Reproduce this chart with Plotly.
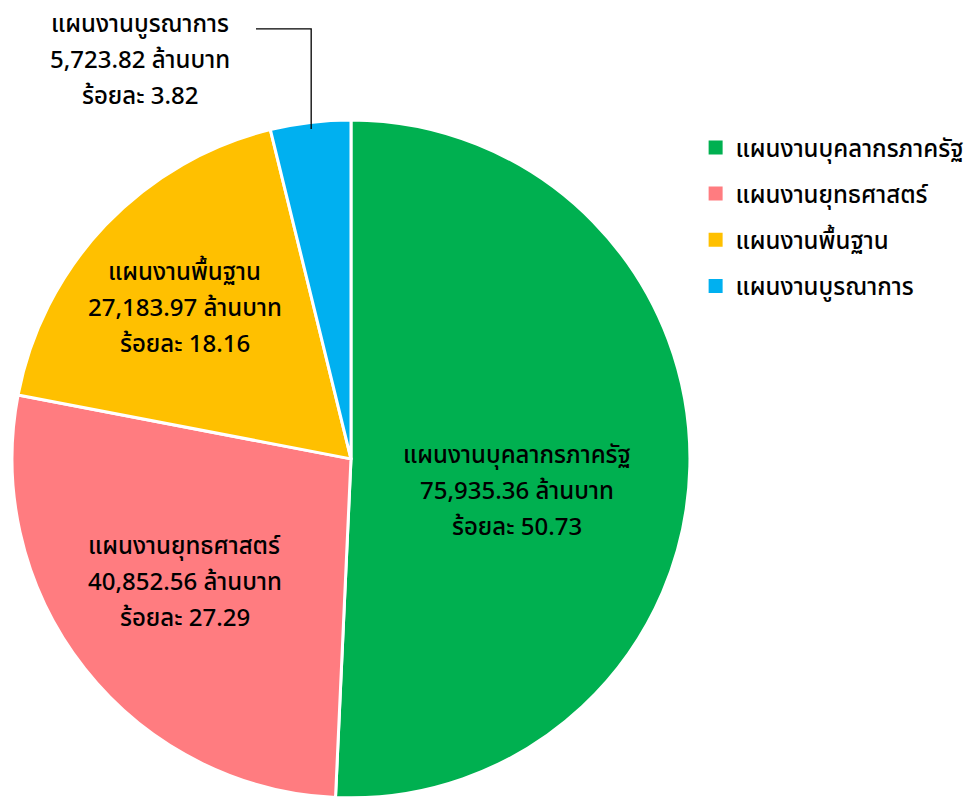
import math
import plotly.graph_objects as go

# ---- data ----
categories = ["แผนงานบุคลากรภาครัฐ", "แผนงานยุทธศาสตร์", "แผนงานพื้นฐาน", "แผนงานบูรณาการ"]
values_mb = [75935.36, 40852.56, 27183.97, 5723.82]       # ล้านบาท
percents = [50.73, 27.29, 18.16, 3.82]                    # ร้อยละ

# ---- style ----
colors = ["#00B050", "#FF7C80", "#FFC000", "#00B0F0"]
W, H = 977, 798
FONT = "Tahoma, 'Noto Sans Thai', 'Leelawadee UI', 'Noto Sans', sans-serif"
FS = 24
WEIGHT = 500
# label centre offsets from pie centre (pixels, +y down)
label_offsets = [(166, 33), (-166, 124), (-166, -150), (-211, -398)]
LINE_GAP = 36

dom_x = [0.0123, 0.7062]
dom_y = [0.0, 0.85]

fig = go.Figure()
fig.add_trace(go.Pie(
    labels=categories, values=values_mb, sort=False, direction="clockwise", rotation=0,
    marker=dict(colors=colors, line=dict(color="white", width=3)),
    textinfo="none", hoverinfo="label+value+percent", showlegend=False,
    domain=dict(x=dom_x, y=dom_y),
))

# legend via placeholder traces so spacing can be controlled
for i, (name, col) in enumerate(zip(categories, colors)):
    fig.add_trace(go.Scatter(
        x=[None], y=[None], mode="markers", name=name, legendgroup=f"g{i}",
        marker=dict(symbol="square", size=14, color=col), showlegend=True,
    ))

# pie geometry in pixels
dw = (dom_x[1] - dom_x[0]) * W
dh = (dom_y[1] - dom_y[0]) * H
R = min(dw, dh) / 2
cx = (dom_x[0] + dom_x[1]) / 2 * W
cy = H - (dom_y[0] + dom_y[1]) / 2 * H   # from top

def to_paper(px, py):
    return px / W, 1 - py / H

total = sum(values_mb)
annotations = []
for i, (name, v, p) in enumerate(zip(categories, values_mb, percents)):
    lines = [name, f"{v:,.2f} ล้านบาท", f"ร้อยละ {p:.2f}"]
    ox, oy = label_offsets[i]
    for j, t in enumerate(lines):
        x, y = to_paper(cx + ox, cy + oy + (j - 1) * LINE_GAP)
        annotations.append(dict(
            x=x, y=y, xref="paper", yref="paper", text=t, showarrow=False,
            xanchor="center", yanchor="middle",
            font=dict(family=FONT, size=FS, color="black", weight=WEIGHT),
        ))

# leader line for the small slice
cum = sum(values_mb[:3]) + values_mb[3] / 2
ang = cum / total * 2 * math.pi
ex = cx + math.sin(ang) * R * 0.98
ey = cy - math.cos(ang) * R * 0.98
ox, oy = label_offsets[3]
ly = cy + oy - LINE_GAP + 4
lx0 = cx + ox + 116
p0 = to_paper(lx0, ly)
p1 = to_paper(ex, ly)
p2 = to_paper(ex, ey)
fig.add_shape(type="path", xref="paper", yref="paper",
              path=f"M {p0[0]} {p0[1]} L {p1[0]} {p1[1]} L {p2[0]} {p2[1]}",
              line=dict(color="black", width=1.3))

fig.update_layout(
    width=W, height=H, margin=dict(l=0, r=0, t=0, b=0),
    paper_bgcolor="white", plot_bgcolor="white",
    xaxis=dict(visible=False), yaxis=dict(visible=False),
    annotations=annotations,
    legend=dict(x=0.712, y=0.843, xanchor="left", yanchor="top",
                font=dict(family=FONT, size=FS, color="black", weight=WEIGHT),
                tracegroupgap=12, bgcolor="rgba(0,0,0,0)"),
    font=dict(family=FONT),
)

fig.write_html("out.html")
